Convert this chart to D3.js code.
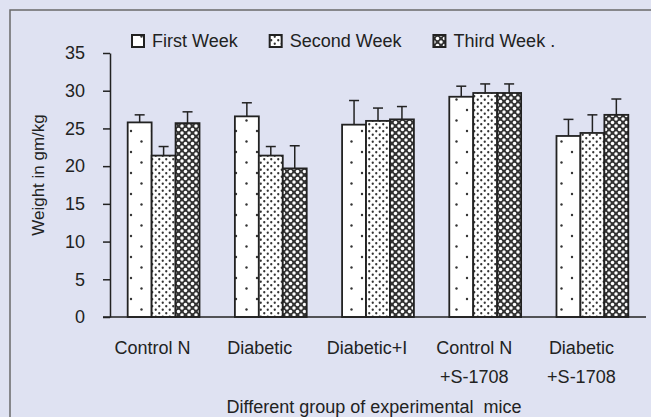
<!DOCTYPE html>
<html>
<head>
<meta charset="utf-8">
<script src="https://cdn.jsdelivr.net/npm/d3@7"></script>
<style>
  body { margin: 0; background: #dfe2f2; }
  svg { display: block; font-family: "Liberation Sans", Arial, sans-serif; }
  .axis text { fill: #222; }
</style>
</head>
<body>
<div id="chart"></div>
<script>
// chart data
const groups = [['Control N'], ['Diabetic'], ['Diabetic+I'], ['Control N', '+S-1708'], ['Diabetic', '+S-1708']];
const series = ['First Week', 'Second Week', 'Third Week .'];
const firstWeek = [25.8, 26.6, 25.5, 29.2, 24.0];
const secondWeek = [21.4, 21.4, 26.0, 29.7, 24.4];
const thirdWeek = [25.7, 19.7, 26.2, 29.7, 26.8];
const firstErr = [1.0, 1.8, 3.2, 1.4, 2.2];
const secondErr = [1.2, 1.2, 1.7, 1.2, 2.4];
const thirdErr = [1.5, 3.0, 1.7, 1.2, 2.1];
const yTicks = [0, 5, 10, 15, 20, 25, 30, 35];

const values = [firstWeek, secondWeek, thirdWeek];
const errors = [firstErr, secondErr, thirdErr];

const width = 651, height = 417;
const margin = { top: 53, right: 5, bottom: 100, left: 110 };
const plotRight = 646;

const svg = d3.select('#chart').append('svg')
  .attr('width', width)
  .attr('height', height);

// outer frame (runs off the picture on right and bottom)
svg.append('rect')
  .attr('x', 10).attr('y', 10)
  .attr('width', 700).attr('height', 500)
  .attr('fill', 'none')
  .attr('stroke', '#6a6a6a')
  .attr('stroke-width', 1.5);

// fill patterns
const defs = svg.append('defs');

const p1 = defs.append('pattern').attr('id', 'pat0')
  .attr('patternUnits', 'userSpaceOnUse').attr('width', 21).attr('height', 21);
p1.append('rect').attr('width', 21).attr('height', 21).attr('fill', '#fff');
p1.append('circle').attr('cx', 5).attr('cy', 5).attr('r', 1.2).attr('fill', '#333');
p1.append('circle').attr('cx', 15.5).attr('cy', 15.5).attr('r', 1.2).attr('fill', '#333');

const p2 = defs.append('pattern').attr('id', 'pat1')
  .attr('patternUnits', 'userSpaceOnUse').attr('width', 7).attr('height', 7);
p2.append('rect').attr('width', 7).attr('height', 7).attr('fill', '#fff');
p2.append('circle').attr('cx', 1.75).attr('cy', 1.75).attr('r', 1.15).attr('fill', '#333');
p2.append('circle').attr('cx', 5.25).attr('cy', 5.25).attr('r', 1.15).attr('fill', '#333');

const p3 = defs.append('pattern').attr('id', 'pat2')
  .attr('patternUnits', 'userSpaceOnUse').attr('width', 7).attr('height', 7);
p3.append('rect').attr('width', 7).attr('height', 7).attr('fill', '#333');
[[0, 0], [7, 0], [0, 7], [7, 7], [3.5, 3.5]].forEach(c => {
  p3.append('circle').attr('cx', c[0]).attr('cy', c[1]).attr('r', 1.75).attr('fill', '#fff');
});

// scales
const x0 = d3.scaleBand()
  .domain(d3.range(groups.length))
  .range([margin.left, plotRight])
  .paddingInner(0.33)
  .paddingOuter(0.165);

const x1 = d3.scaleBand()
  .domain(d3.range(series.length))
  .range([0, x0.bandwidth()]);

const y = d3.scaleLinear().domain([0, 35]).range([height - margin.bottom, margin.top]);

// y axis
const yAxis = svg.append('g')
  .attr('class', 'axis axis-y')
  .attr('transform', `translate(${margin.left},0)`)
  .call(d3.axisLeft(y).tickValues(yTicks).tickSize(7).tickPadding(18).tickSizeOuter(0));
yAxis.selectAll('text').style('font-size', '18px');
yAxis.selectAll('line').attr('stroke', '#222').attr('stroke-width', 1.5);
yAxis.select('.domain').attr('stroke', '#222').attr('stroke-width', 1.5);

// bars
const groupSel = svg.append('g').attr('class', 'bars')
  .selectAll('g')
  .data(series)
  .join('g');

groupSel.each(function (s, si) {
  const g = d3.select(this);
  g.selectAll('rect')
    .data(values[si])
    .join('rect')
    .attr('x', (d, i) => x0(i) + x1(si))
    .attr('y', d => y(d))
    .attr('width', x1.bandwidth())
    .attr('height', d => y(0) - y(d))
    .attr('fill', `url(#pat${si})`)
    .attr('stroke', '#222')
    .attr('stroke-width', 1.8);

  // error bars (upper only)
  const eb = g.selectAll('g.err')
    .data(values[si])
    .join('g').attr('class', 'err');
  eb.append('line')
    .attr('x1', (d, i) => x0(i) + x1(si) + x1.bandwidth() / 2)
    .attr('x2', (d, i) => x0(i) + x1(si) + x1.bandwidth() / 2)
    .attr('y1', d => y(d))
    .attr('y2', (d, i) => y(d + errors[si][i]))
    .attr('stroke', '#222').attr('stroke-width', 1.5);
  eb.append('line')
    .attr('x1', (d, i) => x0(i) + x1(si) + x1.bandwidth() / 2 - 5)
    .attr('x2', (d, i) => x0(i) + x1(si) + x1.bandwidth() / 2 + 5)
    .attr('y1', (d, i) => y(d + errors[si][i]))
    .attr('y2', (d, i) => y(d + errors[si][i]))
    .attr('stroke', '#222').attr('stroke-width', 1.5);
});

// x axis baseline
svg.append('line')
  .attr('x1', margin.left - 7).attr('x2', plotRight)
  .attr('y1', y(0)).attr('y2', y(0))
  .attr('stroke', '#222').attr('stroke-width', 1.5);

// category labels
const cat = svg.append('g').attr('class', 'axis axis-x')
  .selectAll('text')
  .data(groups)
  .join('text')
  .attr('x', (d, i) => x0(i) + x0.bandwidth() / 2 - 11)
  .attr('y', 354)
  .attr('text-anchor', 'middle')
  .style('font-size', '18px')
  .attr('fill', '#222');
cat.selectAll('tspan')
  .data(d => d)
  .join('tspan')
  .attr('x', function () { return d3.select(this.parentNode).attr('x'); })
  .attr('dy', (d, i) => i === 0 ? 0 : 29)
  .text(d => d);

// axis titles
svg.append('text')
  .attr('transform', `translate(44,175) rotate(-90)`)
  .attr('text-anchor', 'middle')
  .style('font-size', '17px')
  .attr('fill', '#222')
  .text('Weight in gm/kg');

svg.append('text')
  .attr('x', 374).attr('y', 413)
  .attr('text-anchor', 'middle')
  .style('font-size', '18px')
  .style('white-space', 'pre')
  .attr('fill', '#222')
  .text('Different group of experimental  mice');

// legend
const legend = svg.append('g').attr('class', 'legend');
let lx = 132;
series.forEach((s, si) => {
  legend.append('rect')
    .attr('x', lx).attr('y', 35)
    .attr('width', 12).attr('height', 12)
    .attr('fill', `url(#pat${si})`)
    .attr('stroke', '#222').attr('stroke-width', 2);
  const t = legend.append('text')
    .attr('x', lx + 20).attr('y', 47)
    .style('font-size', '18px')
    .attr('fill', '#222')
    .text(s);
  lx = lx + 20 + t.node().getComputedTextLength() + 32;
});
</script>
</body>
</html>
